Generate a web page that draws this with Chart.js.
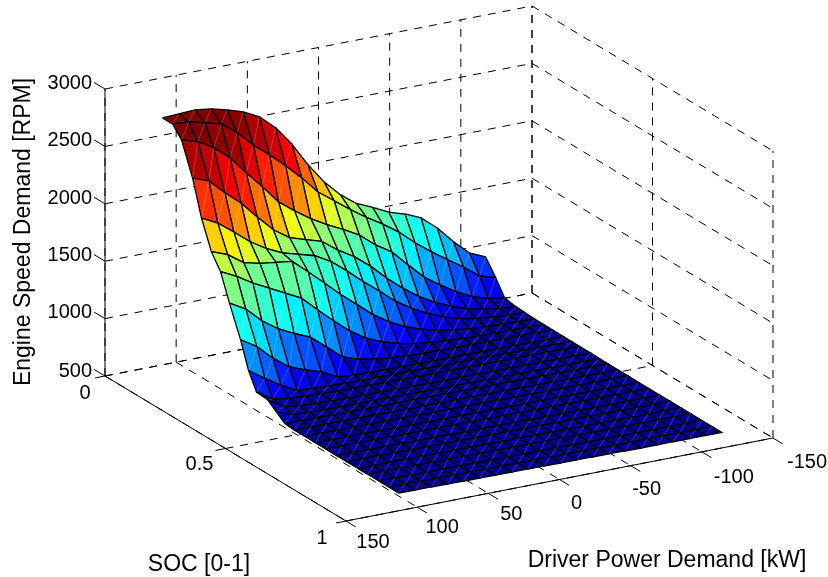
<!DOCTYPE html>
<html>
<head>
<meta charset="utf-8">
<title>Engine Speed Demand</title>
<script src="https://cdn.jsdelivr.net/npm/chart.js@4/dist/chart.umd.min.js"></script>
<style>
html, body { margin: 0; padding: 0; background: #fff; }
canvas { display: block; }
</style>
</head>
<body>
<canvas id="surfaceChart" width="828" height="577"></canvas>
<script>
// axis ticks
const zTicks = [500, 1000, 1500, 2000, 2500, 3000];
const socTicks = [0, 0.5, 1];
const powerTicks = [150, 100, 50, 0, -50, -100, -150];

// surface breakpoints
const socValues = [0.02, 0.062, 0.099, 0.145, 0.182, 0.223, 0.261, 0.298, 0.344, 0.377, 0.41, 0.456,
    0.493, 0.527, 0.568, 0.61, 0.655, 0.697, 0.743, 0.784, 0.83, 0.871, 0.917, 0.959, 1];
const powerValues = [113, 101.6, 90.3, 78.9, 67.6, 56.3, 44.9, 33.6, 22.2, 10.9, -0.5, -11.9, -23.2,
    -34.6, -45.9, -57.3, -68.6, -79.9, -91.3, -102.6, -114];

// engine speed [RPM], one row per SOC value
const speedRow0 = [2684, 2692, 2699, 2681, 2645, 2601, 2531, 2409, 2240, 2032, 1854, 1715, 1611, 1549, 1481, 1437, 1376, 1262, 1116, 988, 927];
const speedRow1 = [2684, 2675, 2639, 2603, 2499, 2364, 2251, 2129, 1994, 1846, 1742, 1638, 1542, 1457, 1360, 1239, 1135, 1039, 946, 842, 798];
const speedRow2 = [2593, 2549, 2470, 2353, 2196, 2049, 1888, 1783, 1688, 1609, 1539, 1463, 1349, 1262, 1123, 988, 892, 805, 735, 690, 670];
const speedRow3 = [2318, 2266, 2135, 2017, 1869, 1731, 1635, 1591, 1547, 1444, 1360, 1250, 1120, 1004, 904, 824, 764, 714, 684, 662, 652];
const speedRow4 = [2015, 1945, 1840, 1728, 1642, 1577, 1537, 1497, 1420, 1310, 1190, 1080, 964, 874, 804, 744, 704, 677, 662, 652, 647];
const speedRow5 = [1775, 1722, 1625, 1591, 1572, 1554, 1434, 1312, 1183, 1070, 954, 864, 794, 744, 704, 684, 667, 657, 652, 647, 642];
const speedRow6 = [1649, 1580, 1494, 1424, 1354, 1283, 1154, 1030, 914, 824, 764, 724, 692, 677, 667, 657, 652, 650, 647, 644, 642];
const speedRow7 = [1422, 1343, 1214, 1118, 1048, 989, 877, 762, 714, 689, 672, 662, 657, 654, 652, 652, 650, 648, 647, 644, 642];
const speedRow8 = [1161, 1074, 946, 842, 789, 745, 674, 662, 658, 655, 654, 652, 650, 650, 648, 648, 646, 645, 644, 642, 640];
const speedRow9 = [935, 839, 752, 680, 670, 665, 660, 658, 656, 655, 654, 652, 650, 650, 648, 648, 646, 645, 644, 642, 640];
const speedRow10 = [790, 700, 680, 670, 665, 660, 658, 656, 655, 654, 652, 650, 650, 648, 648, 646, 645, 645, 644, 642, 640];
const speedRow11 = [780, 690, 672, 665, 660, 658, 656, 655, 654, 652, 650, 650, 648, 648, 646, 645, 645, 644, 642, 640, 640];
const speedRow12 = [718, 670, 662, 658, 656, 655, 654, 652, 650, 650, 648, 648, 646, 645, 645, 644, 642, 640, 640, 638, 638];
const speedRow13 = [664, 660, 658, 656, 655, 654, 652, 650, 650, 648, 648, 646, 645, 645, 644, 642, 640, 640, 638, 638, 636];
const speedRow14 = [656, 656, 655, 654, 654, 652, 650, 650, 648, 648, 646, 645, 645, 644, 642, 640, 640, 638, 638, 636, 636];
const speedRow15 = [656, 655, 655, 654, 652, 650, 650, 648, 648, 646, 645, 645, 644, 642, 640, 640, 638, 638, 636, 636, 636];
const speedRow16 = [656, 655, 655, 654, 652, 650, 650, 648, 648, 646, 645, 644, 644, 642, 640, 640, 638, 638, 636, 636, 636];
const speedRow17 = [656, 655, 654, 654, 652, 650, 650, 648, 648, 646, 645, 644, 644, 642, 640, 640, 638, 638, 636, 636, 636];
const speedRow18 = [655, 655, 654, 652, 652, 650, 648, 648, 646, 646, 645, 644, 642, 642, 640, 640, 638, 638, 636, 636, 636];
const speedRow19 = [655, 655, 654, 652, 650, 650, 648, 648, 646, 645, 645, 644, 642, 640, 640, 638, 638, 636, 636, 636, 636];
const speedRow20 = [655, 654, 654, 652, 650, 650, 648, 648, 646, 645, 645, 644, 642, 640, 640, 638, 638, 636, 636, 636, 636];
const speedRow21 = [655, 654, 652, 652, 650, 650, 648, 646, 646, 645, 644, 644, 642, 640, 640, 638, 638, 636, 636, 636, 636];
const speedRow22 = [655, 654, 652, 650, 650, 648, 648, 646, 645, 645, 644, 642, 642, 640, 640, 638, 636, 636, 636, 636, 636];
const speedRow23 = [655, 654, 652, 650, 650, 648, 646, 646, 645, 644, 644, 642, 640, 640, 638, 638, 636, 636, 636, 636, 636];
const speedRow24 = [655, 652, 652, 650, 648, 648, 646, 645, 645, 644, 642, 642, 640, 640, 638, 636, 636, 636, 636, 636, 636];

const speedRows = [speedRow0, speedRow1, speedRow2, speedRow3, speedRow4, speedRow5, speedRow6, speedRow7,
    speedRow8, speedRow9, speedRow10, speedRow11, speedRow12, speedRow13, speedRow14, speedRow15,
    speedRow16, speedRow17, speedRow18, speedRow19, speedRow20, speedRow21, speedRow22, speedRow23, speedRow24];

// view of the 3D box, the x/y scales below run in projected units
const viewOrigin = { x: 105, y: 376 };
const viewSoc = { x: 241, y: 145 };
const viewPower = { x: 427, y: -83 };
const viewSpeed = { x: 0, y: -287 };

const project = (soc, power, speed) => {
    const p = (150 - power) / 300;
    const z = (speed - 500) / 2500;
    return {
        x: viewOrigin.x + viewSoc.x * soc + viewPower.x * p + viewSpeed.x * z,
        y: viewOrigin.y + viewSoc.y * soc + viewPower.y * p + viewSpeed.y * z
    };
};

// MATLAB jet, 64 steps
const jetColor = (speed) => {
    const level = Math.floor(Math.min(Math.max((speed - 636) / (2699 - 636), 0), 0.9999) * 64);
    const t = (level + 1) / 64;
    const chan = (c) => Math.round(255 * Math.min(Math.max(1.5 - Math.abs(4 * t - c), 0), 1));
    return `rgb(${chan(3)},${chan(2)},${chan(1)})`;
};

const node = (i, j) => project(socValues[i], powerValues[j], speedRows[i][j]);

const datasets = [];

// first dataset ends up on top, so nearest cells go first
for (let i = socValues.length - 2; i >= 0; i--) {
    for (let j = 0; j < powerValues.length - 1; j++) {
        datasets.push({
            data: [node(i + 1, j), node(i, j + 1)],
            showLine: true,
            borderColor: 'rgba(255,255,255,0.3)',
            borderWidth: 0.7,
            pointRadius: 0,
            clip: false
        });
        datasets.push({
            data: [node(i, j), node(i, j + 1), node(i + 1, j + 1), node(i + 1, j), node(i, j)],
            showLine: true,
            fill: 'shape',
            backgroundColor: jetColor(speedRows[i][j]),
            borderColor: '#000',
            borderWidth: 1.3,
            pointRadius: 0,
            clip: false
        });
    }
}

const addLine = (a, b, dashed) => {
    datasets.push({
        data: [a, b],
        showLine: true,
        borderColor: '#000',
        borderWidth: 1,
        borderDash: dashed ? [8, 7] : [],
        pointRadius: 0,
        clip: false
    });
};

// solid axes
addLine(project(0, 150, 500), project(0, 150, 3000), false);
addLine(project(0, 150, 500), project(1, 150, 500), false);
addLine(project(1, 150, 500), project(1, -150, 500), false);

// dashed grid on the floor and the two back walls
socTicks.forEach(s => {
    addLine(project(s, 150, 500), project(s, -150, 500), true);
    addLine(project(s, -150, 500), project(s, -150, 3000), true);
    addLine(project(s, 150, 500), project(s, 157, 500), false);
});
powerTicks.forEach(p => {
    addLine(project(0, p, 500), project(1, p, 500), true);
    addLine(project(0, p, 500), project(0, p, 3000), true);
    addLine(project(1, p, 500), project(1.04, p, 500), false);
});
zTicks.forEach(z => {
    addLine(project(0, 150, z), project(0, -150, z), true);
    addLine(project(0, -150, z), project(1, -150, z), true);
    addLine(project(0, 150, z), project(-0.045, 150, z), false);
});

const zLabelDy = [-5, -6, -5.5, -5.5, -6, -6];
const socLabelDx = [-20, -26, -24];
const socLabelDy = [17, 16, 17];
const powerLabelDx = [27, 25, 23, 17, 16, 32, 34];
const powerLabelDy = [21, 20, 21, 24, 24, 26, 24];

const textPlugin = {
    id: 'surfaceText',
    afterDraw: (chart) => {
        const ctx = chart.ctx;
        const sx = chart.scales.x;
        const sy = chart.scales.y;
        const put = (pt, dx, dy, text, align) => {
            ctx.textAlign = align;
            ctx.fillText(text, sx.getPixelForValue(pt.x) + dx, sy.getPixelForValue(pt.y) + dy);
        };
        ctx.save();
        ctx.fillStyle = '#000';
        ctx.font = '20px "Liberation Sans", Arial, sans-serif';
        ctx.textBaseline = 'middle';
        zTicks.forEach((z, k) => put(project(0, 150, z), -13, zLabelDy[k], String(z), 'right'));
        socTicks.forEach((s, k) => put(project(s, 150, 500), socLabelDx[k], socLabelDy[k], String(s), 'center'));
        powerTicks.forEach((p, k) => put(project(1, p, 500), powerLabelDx[k], powerLabelDy[k], String(p), 'center'));
        ctx.font = '23px "Liberation Sans", Arial, sans-serif';
        ctx.textAlign = 'center';
        ctx.fillText('SOC [0-1]', 199, 565);
        ctx.fillText('Driver Power Demand [kW]', 667, 561);
        ctx.translate(24, 232);
        ctx.rotate(-Math.PI / 2);
        ctx.fillText('Engine Speed Demand [RPM]', 0, 0);
        ctx.restore();
    }
};

const surfaceChart = new Chart(document.getElementById('surfaceChart'), {
    type: 'scatter',
    data: { datasets: datasets },
    options: {
        responsive: false,
        animation: false,
        events: [],
        layout: { padding: 0 },
        scales: {
            x: { type: 'linear', display: false, min: 0, max: 828 },
            y: { type: 'linear', display: false, min: 0, max: 577, reverse: true }
        },
        plugins: {
            legend: { display: false },
            title: { display: false },
            tooltip: { enabled: false }
        }
    },
    plugins: [textPlugin]
});
</script>
</body>
</html>
